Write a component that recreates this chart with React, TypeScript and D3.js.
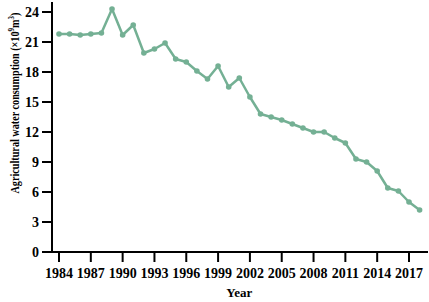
import React from "react";
import * as d3 from "d3";

const years = [1984,1985,1986,1987,1988,1989,1990,1991,1992,1993,1994,1995,1996,1997,1998,1999,2000,2001,2002,2003,2004,2005,2006,2007,2008,2009,2010,2011,2012,2013,2014,2015,2016,2017,2018];
const values = [21.8,21.8,21.7,21.8,21.9,24.3,21.7,22.7,19.9,20.3,20.9,19.3,19.0,18.1,17.3,18.6,16.5,17.4,15.5,13.8,13.5,13.2,12.8,12.4,12.0,12.0,11.4,10.9,9.3,9.0,8.1,6.4,6.1,5.0,4.2];
const xTicks = [1984,1987,1990,1993,1996,1999,2002,2005,2008,2011,2014,2017];
const yTicks = [0,3,6,9,12,15,18,21,24];

export default function App() {
  const W = 429, H = 302;
  const x0 = 52, y0 = 252;
  const x = d3.scaleLinear().domain([1984, 2017]).range([59, 409]);
  const y = d3.scaleLinear().domain([0, 24]).range([y0, 12]);
  const line = d3.line<number>().x((_, i) => x(years[i])).y((d) => y(d));
  const color = "#74b094";
  const font = "'Liberation Serif', 'Times New Roman', serif";
  return (
    <svg width={W} height={H} style={{ position: "absolute", left: 0, top: 0 }} fontFamily={font} fontWeight="bold">
      <line x1={x0} x2={x0} y1={2} y2={y0 + 1} stroke="#000" strokeWidth={2} />
      <line x1={x0 - 1} x2={428} y1={y0} y2={y0} stroke="#000" strokeWidth={2} />
      {yTicks.map((t) => (
        <g key={t}>
          <line x1={x0 - 10} x2={x0} y1={y(t)} y2={y(t)} stroke="#000" strokeWidth={2} />
          <text x={x0 - 13} y={y(t)} dy="0.35em" textAnchor="end" fontSize={14}>{t}</text>
        </g>
      ))}
      {xTicks.map((t) => (
        <g key={t}>
          <line x1={x(t)} x2={x(t)} y1={y0} y2={y0 + 10} stroke="#000" strokeWidth={2} />
          <text x={x(t)} y={y0 + 26} textAnchor="middle" fontSize={14}>{t}</text>
        </g>
      ))}
      <text x={x(2001)} y={297} textAnchor="middle" fontSize={13}>Year</text>
      <text transform={`translate(19,${103}) rotate(-90)`} textAnchor="middle" fontSize={13} textLength={181} lengthAdjust="spacingAndGlyphs">
        Agricultural water consumption (×10<tspan dy="-5" fontSize={9}>9</tspan><tspan dy="5">m</tspan><tspan dy="-5" fontSize={9}>3</tspan><tspan dy="5">)</tspan>
      </text>
      <path d={line(values) || ""} fill="none" stroke={color} strokeWidth={2.5} strokeLinejoin="round" />
      {values.map((v, i) => (
        <circle key={i} cx={x(years[i])} cy={y(v)} r={2.8} fill={color} />
      ))}
    </svg>
  );
}
